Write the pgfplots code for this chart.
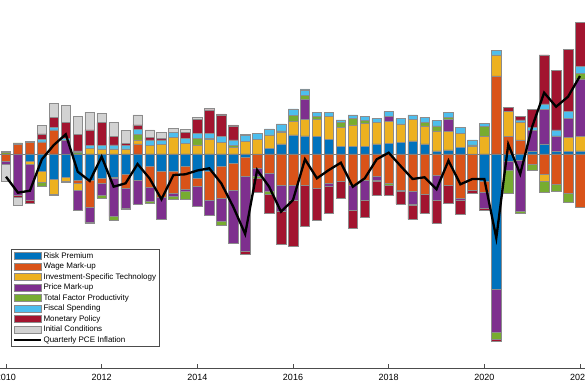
\documentclass[border=0pt]{standalone}
\usepackage{fontspec}
\setmainfont{Liberation Sans}
\usepackage{pgfplots}
\usepackage{pgfplotstable}
\pgfplotsset{compat=1.18}
\definecolor{crp}{RGB}{0,114,189}
\definecolor{cwm}{RGB}{217,83,25}
\definecolor{cist}{RGB}{237,177,32}
\definecolor{cpm}{RGB}{126,47,142}
\definecolor{ctfp}{RGB}{119,172,48}
\definecolor{cfs}{RGB}{77,190,238}
\definecolor{cmp}{RGB}{162,20,47}
\definecolor{cic}{RGB}{210,210,210}
\pgfplotstableread{
x rp wm ist pm tfp fs mp ic infl
2010.00  0     -0.70  0     -0.33  0.15  0     0.12  -1.70  -2.27
2010.25  0      0.95  0     -4.15  0.15  0    -0.13  -0.80  -3.87
2010.50 -0.77   1.17 -0.23  -3.60  0     0    -0.35   0.10  -3.67
2010.75 -1.77   1.20 -1.10   0    -0.40  0.23  0.57   0.83  -0.53
2011.00 -2.50   2.40 -1.50  -0.17  0     0.27  1.00   1.40   0.90
2011.25 -2.35   0    -0.40   1.37 -0.10  0.20  1.60   1.70   1.97
2011.50 -2.60  -0.33 -0.73  -2.00  0.13  0.17  1.67   1.80  -1.77
2011.75 -2.60  -2.70  0.57  -1.50 -0.15  0.27  1.57   1.77  -2.70
2012.00 -2.40  -0.50  0.50  -1.20 -0.33  0.33  2.30   0.93  -0.27
2012.25 -2.30  -0.15  0.50  -3.80 -0.33  0.40  0.83   1.43  -3.27
2012.50 -2.00  -1.40  0.50  -2.00 -0.17  0.33  0.23   1.33  -2.93
2012.75 -2.60   1.00  0.40  -2.40  0.57  0.50  0.43   1.00  -1.00
2013.00 -1.27  -2.10  0.83  -1.40 -0.17  0.57  0.23   0.77  -2.43
2013.25 -1.77  -2.60  0.97  -2.20  0     0.43  0.17   0.60  -4.53
2013.50 -1.77  -2.20  1.63  -0.30 -0.30  0.50  0      0.43  -2.10
2013.75 -1.27  -2.30  1.07  -0.20 -0.77  0.50  0.57   0.33  -2.03
2014.00 -2.43  -0.83  0.90  -2.00  0.67  0.50  1.40   0.20  -1.65
2014.25 -1.70  -2.90  1.47  -1.50  0.10  0.50  2.33   0.15  -1.43
2014.50 -1.27  -3.17  1.17  -2.33 -0.33  0.57  2.17   0.10  -2.93
2014.75 -0.93  -2.73  0.67  -5.27  0.17  0.57  1.40   0.10  -5.27
2015.00 -0.33  -1.94  1.23  -7.50  0     0.60 -0.23   0.10  -8.00
2015.25  0     -1.43  1.47  -0.84 -0.16  0.60 -1.44   0     -1.60
2015.50  0.57  -1.93  1.33  -1.83 -0.23  0.60 -1.93   0     -3.27
2015.75  1.00  -3.10  1.13  -2.67  0.17  0.70 -3.23   0     -5.77
2016.00  1.90  -3.10  1.33  -1.50  0.60  0.67 -4.67   0     -4.60
2016.25  1.80  -3.10  1.67   2.00  0.37  0.57 -4.10   0.10  -0.53
2016.50  1.73  -3.43  1.73   0     0.27  0.40 -3.24   0     -2.43
2016.75  1.47  -2.93  2.27  -0.33  0     0.40 -2.67   0     -1.60
2017.00  0.73  -2.77  1.90   0     0.50  0.27 -1.66   0     -0.87
2017.25  0.73  -3.10  2.17  -2.50  0.67  0.33 -1.83   0     -3.27
2017.50  0.73  -2.60  2.33  -2.00  0.27  0.40 -1.73   0     -2.43
2017.75  1.00  -2.27  2.13  -0.33 -0.17  0.43 -1.40   0     -0.53
2018.00  1.07  -2.93  2.17   0.50 -0.17  0.50 -1.00   0      0.13
2018.25  1.13  -3.60  1.87   0    -0.13  0.53 -1.25   0     -1.20
2018.50  1.30  -3.70  2.17  -1.30 -0.17  0.43 -1.37   0     -2.50
2018.75  1.00  -4.05  1.80   0     0.33  0.53 -1.90   0     -2.33
2019.00  0.30  -2.10  2.00  -2.50  0.50  0.53 -2.33   0     -3.53
2019.25  0.40  -3.10  1.83   1.23  0.20  0.50 -1.80   0     -0.67
2019.50  0.63  -4.40  1.43  -0.20  0     0.60 -1.45   0     -3.03
2019.75  0     -3.60  0.73   0     0.17  0.50 -0.35   0     -2.50
2020.00 -2.77  -1.05  1.73  -1.60  1.00  0.33 -0.23   0     -2.50
2020.25 -13.53  7.80  2.10  -4.33 -0.67  0.43 -0.17   0     -8.40
2020.50 -0.77   1.73  2.50  -0.83 -2.33  0     0.43   0      0.97
2020.75 -0.60   1.40  1.73  -5.10 -0.20  0.27  0.33   0     -2.00
2021.00  0.30  -1.00  0      2.03 -0.67  0.33  1.80   0      2.73
2021.25  1.00  -2.00 -0.77   3.47 -1.10  0.53  4.90   0      6.13
2021.50  0.23  -3.00  0      1.57 -0.70  0.60  5.93   0      4.73
2021.75  0.23  -3.93  1.43   1.90 -0.90  0.67  6.23   0      5.73
2022.00  0.30  -5.37  1.43   5.77  0.57  0.67  4.40   0      7.80
}\datatab
\pgfplotsset{
  common/.style={width=585pt,height=368pt,scale only axis,
    xmin=2009.8746,xmax=2022.1045,ymin=-21.4,ymax=15.4,
    at={(0pt,0pt)},anchor=south west},
  barax/.style={common,hide axis,ybar stacked,bar width=9.5pt},
  bs/.style={fill=#1,draw=black!45,line width=0.5pt},
  barleg/.style={legend image code/.code={\draw[##1] (0pt,-3.5pt) rectangle (27pt,3.5pt);}},
  lineleg/.style={legend image code/.code={\draw[##1] (0pt,0pt) -- (27pt,0pt);}},
}
\begin{document}
\begin{tikzpicture}
\begin{axis}[barax]
\addplot[bs=crp]  table[x=x,y expr={max(\thisrow{rp},0)}]{\datatab};
\addplot[bs=cwm]  table[x=x,y expr={max(\thisrow{wm},0)}]{\datatab};
\addplot[bs=cist] table[x=x,y expr={max(\thisrow{ist},0)}]{\datatab};
\addplot[bs=cpm]  table[x=x,y expr={max(\thisrow{pm},0)}]{\datatab};
\addplot[bs=ctfp] table[x=x,y expr={max(\thisrow{tfp},0)}]{\datatab};
\addplot[bs=cfs]  table[x=x,y expr={max(\thisrow{fs},0)}]{\datatab};
\addplot[bs=cmp]  table[x=x,y expr={max(\thisrow{mp},0)}]{\datatab};
\addplot[bs=cic]  table[x=x,y expr={max(\thisrow{ic},0)}]{\datatab};
\end{axis}
\begin{axis}[barax]
\addplot[bs=crp]  table[x=x,y expr={min(\thisrow{rp},0)}]{\datatab};
\addplot[bs=cwm]  table[x=x,y expr={min(\thisrow{wm},0)}]{\datatab};
\addplot[bs=cist] table[x=x,y expr={min(\thisrow{ist},0)}]{\datatab};
\addplot[bs=cpm]  table[x=x,y expr={min(\thisrow{pm},0)}]{\datatab};
\addplot[bs=ctfp] table[x=x,y expr={min(\thisrow{tfp},0)}]{\datatab};
\addplot[bs=cfs]  table[x=x,y expr={min(\thisrow{fs},0)}]{\datatab};
\addplot[bs=cmp]  table[x=x,y expr={min(\thisrow{mp},0)}]{\datatab};
\addplot[bs=cic]  table[x=x,y expr={min(\thisrow{ic},0)}]{\datatab};
\end{axis}
\begin{axis}[common,
  axis y line=none, axis x line=bottom, x axis line style={-,black!70,line width=0.5pt},
  ytick=\empty,
  xtick={2010,2012,2014,2016,2018,2020,2022},
  xticklabels={2010,2012,2014,2016,2018,2020,2022},
  tick align=inside, major tick length=4.5pt,
  tick style={black!70,line width=0.5pt},
  xticklabel style={font=\fontsize{9}{10}\selectfont,yshift=-3pt},
  legend style={at={(0.0188,0.3234)},anchor=north west,draw=black!70,line width=0.5pt,
    font=\fontsize{8}{9}\selectfont,inner xsep=1.5pt,inner ysep=1.5pt,row sep=0pt,
    nodes={inner xsep=1.5pt,inner ysep=1.2pt,text height=6.2pt,text depth=1.9pt},
    cells={anchor=west}},
]
\addlegendimage{barleg,bs=crp}
\addlegendentry{Risk Premium}
\addlegendimage{barleg,bs=cwm}
\addlegendentry{Wage Mark-up}
\addlegendimage{barleg,bs=cist}
\addlegendentry{Investment-Specific Technology}
\addlegendimage{barleg,bs=cpm}
\addlegendentry{Price Mark-up}
\addlegendimage{barleg,bs=ctfp}
\addlegendentry{Total Factor Productivity}
\addlegendimage{barleg,bs=cfs}
\addlegendentry{Fiscal Spending}
\addlegendimage{barleg,bs=cmp}
\addlegendentry{Monetary Policy}
\addlegendimage{barleg,bs=cic}
\addlegendentry{Initial Conditions}
\draw[black!50,line width=0.5pt] (axis cs:2009.5,0) -- (axis cs:2022.5,0);
\addplot[lineleg,black,line width=2.3pt,sharp plot,mark=none] table[x=x,y=infl]{\datatab};
\addlegendentry{Quarterly PCE Inflation}
\end{axis}
\pgfresetboundingbox
\path[use as bounding box] (0pt,-22pt) rectangle (585pt,368pt);
\end{tikzpicture}
\end{document}
